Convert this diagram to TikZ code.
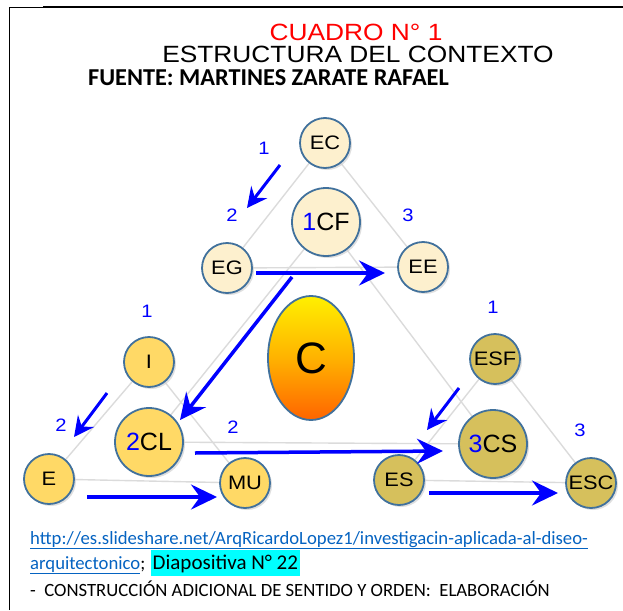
\documentclass[tikz,border=0pt]{standalone}
\usepackage{fontspec}
\setmainfont{Liberation Sans}
\newfontfamily\widesans[FakeStretch=1.12]{Liberation Sans}
\newfontfamily\carlito{Carlito}
\usetikzlibrary{arrows.meta,shapes.geometric,shadows,backgrounds}
\definecolor{bord}{RGB}{65,113,156}
\definecolor{creamf}{RGB}{253,240,206}
\definecolor{goldf}{RGB}{255,217,102}
\definecolor{olivef}{RGB}{214,192,92}
\definecolor{linkc}{RGB}{5,99,193}
\definecolor{hilite}{RGB}{0,255,255}
\definecolor{titred}{RGB}{255,0,0}
\definecolor{ctop}{RGB}{255,240,0}
\definecolor{cmid}{RGB}{255,178,0}
\definecolor{cbot}{RGB}{255,100,0}
\begin{document}
\begin{tikzpicture}[x=1pt,y=-1pt,
  circ/.style={circle, draw=bord, line width=1.8pt, inner sep=0pt,
    drop shadow={shadow xshift=2pt, shadow yshift=-2pt, fill=black!18, opacity=0.7}},
  smallc/.style={circ, minimum size=50pt, font=\widesans\fontsize{19.5}{20}\selectfont},
  bigc/.style={circ, minimum size=68pt, font=\fontsize{25}{25}\selectfont},
  cream/.style={fill=creamf},
  gold/.style={fill=goldf},
  olive/.style={fill=olivef},
  glink/.style={draw=gray!28, line width=1.4pt},
  barrow/.style={draw=blue, line width=3.5pt, -{Stealth[length=26pt,width=25pt,inset=9pt]}},
  darrow/.style={draw=blue, line width=3pt, -{Stealth[length=20pt,width=20pt,inset=7pt]}},
  num/.style={text=blue, inner sep=0pt, font=\widesans\fontsize{18}{18}\selectfont},
  btxt/.style={anchor=base west, inner sep=0pt, font=\carlito\fontsize{18.7}{20}\selectfont},
]
\useasboundingbox (0,0) rectangle (623,610);
% frame
\draw[line width=1pt] (9,610) -- (9,8) -- (43,8);
\draw[line width=2.5pt] (43,7) -- (623,7);

% titles
\node[text=titred, inner sep=0pt, anchor=base, font=\widesans\fontsize{23.5}{23.5}\selectfont] (t1) at (356,41) {CUADRO N° 1};
\node[inner sep=0pt, anchor=base, font=\widesans\fontsize{23.5}{23.5}\selectfont] (t2) at (358,63) {ESTRUCTURA DEL CONTEXTO};
\node[inner sep=0pt, anchor=base west, font=\carlito\bfseries\fontsize{24.3}{24}\selectfont] (t3) at (88,85) {FUENTE: MARTINES ZARATE RAFAEL};

% nodes
\node[smallc, cream] (EC) at (325,143) {EC};
\node[bigc, cream] (CF) at (326,222) {\textcolor{blue}{1}CF};
\node[smallc, cream] (EG) at (227,268) {EG};
\node[smallc, cream] (EE) at (423,267) {EE};
\node[smallc, gold] (I) at (149,362) {I};
\node[bigc, gold] (CL) at (149,442) {\textcolor{blue}{2}CL};
\node[smallc, gold] (E) at (49,479) {E};
\node[smallc, gold] (MU) at (245,483) {MU};
\node[smallc, olive] (ESF) at (495,359) {ESF};
\node[bigc, olive] (CS) at (493,444) {\textcolor{blue}{3}CS};
\node[smallc, olive] (ES) at (399,480) {ES};
\node[smallc, olive] (ESC) at (591,483) {ESC};
\node[ellipse, draw=bord, line width=1.8pt, minimum width=86pt, minimum height=124pt,
  top color=ctop, bottom color=cbot, middle color=cmid, inner sep=0pt,
  font=\fontsize{44}{44}\selectfont] (C) at (311,358) {C};

% gray structure lines
\begin{scope}[on background layer]
  \draw[glink] (EC) -- (EG) -- (EE) -- (EC);
  \draw[glink] (CF) -- (CL) -- (CS) -- (CF);
  \draw[glink] (I) -- (E) -- (MU) -- (I);
  \draw[glink] (ESF) -- (ES) -- (ESC) -- (ESF);
\end{scope}

% numbers
\node[num] (n1a) at (264,148) {1};
\node[num] (n2a) at (232,215) {2};
\node[num] (n3a) at (408,215) {3};
\node[num] (n1b) at (147,311) {1};
\node[num] (n2b) at (61,425) {2};
\node[num] (n2c) at (233,427) {2};
\node[num] (n1c) at (493,307) {1};
\node[num] (n3c) at (580,430) {3};

% arrows
\coordinate (a1s) at (280,165); \coordinate (a1e) at (247,208);
\coordinate (a2s) at (256,273); \coordinate (a2e) at (385,273);
\coordinate (a3s) at (292,277); \coordinate (a3e) at (180,420);
\coordinate (a4s) at (107,393); \coordinate (a4e) at (74,437);
\coordinate (a5s) at (195,453); \coordinate (a5e) at (443,451);
\coordinate (a6s) at (87,497);  \coordinate (a6e) at (217,497);
\coordinate (a7s) at (459,388); \coordinate (a7e) at (427,430);
\coordinate (a8s) at (429,493); \coordinate (a8e) at (558,493);
\draw[darrow] (a1s) -- (a1e);
\draw[barrow] (a2s) -- (a2e);
\draw[barrow] (a3s) -- (a3e);
\draw[darrow] (a4s) -- (a4e);
\draw[barrow] (a5s) -- (a5e);
\draw[barrow] (a6s) -- (a6e);
\draw[darrow] (a7s) -- (a7e);
\draw[barrow] (a8s) -- (a8e);

% bottom text
\node[btxt, text=linkc] (u1) at (30,544) {\underline{http://es.slideshare.net/ArqRicardoLopez1/investigacin-aplicada-al-diseo-}};
\node[btxt] (u2) at (30,569) {\textcolor{linkc}{\underline{arquitectonico}};};
\node[btxt, fill=hilite, inner xsep=2pt, inner ysep=4pt, font=\carlito\fontsize{21}{22}\selectfont] (dia) at ([xshift=5pt]u2.base east) {Diapositiva N° 22};
\node[btxt] (l3) at (30,596) {-\ \ CONSTRUCCIÓN ADICIONAL DE SENTIDO Y ORDEN:\ \ ELABORACIÓN};
\end{tikzpicture}
\end{document}
